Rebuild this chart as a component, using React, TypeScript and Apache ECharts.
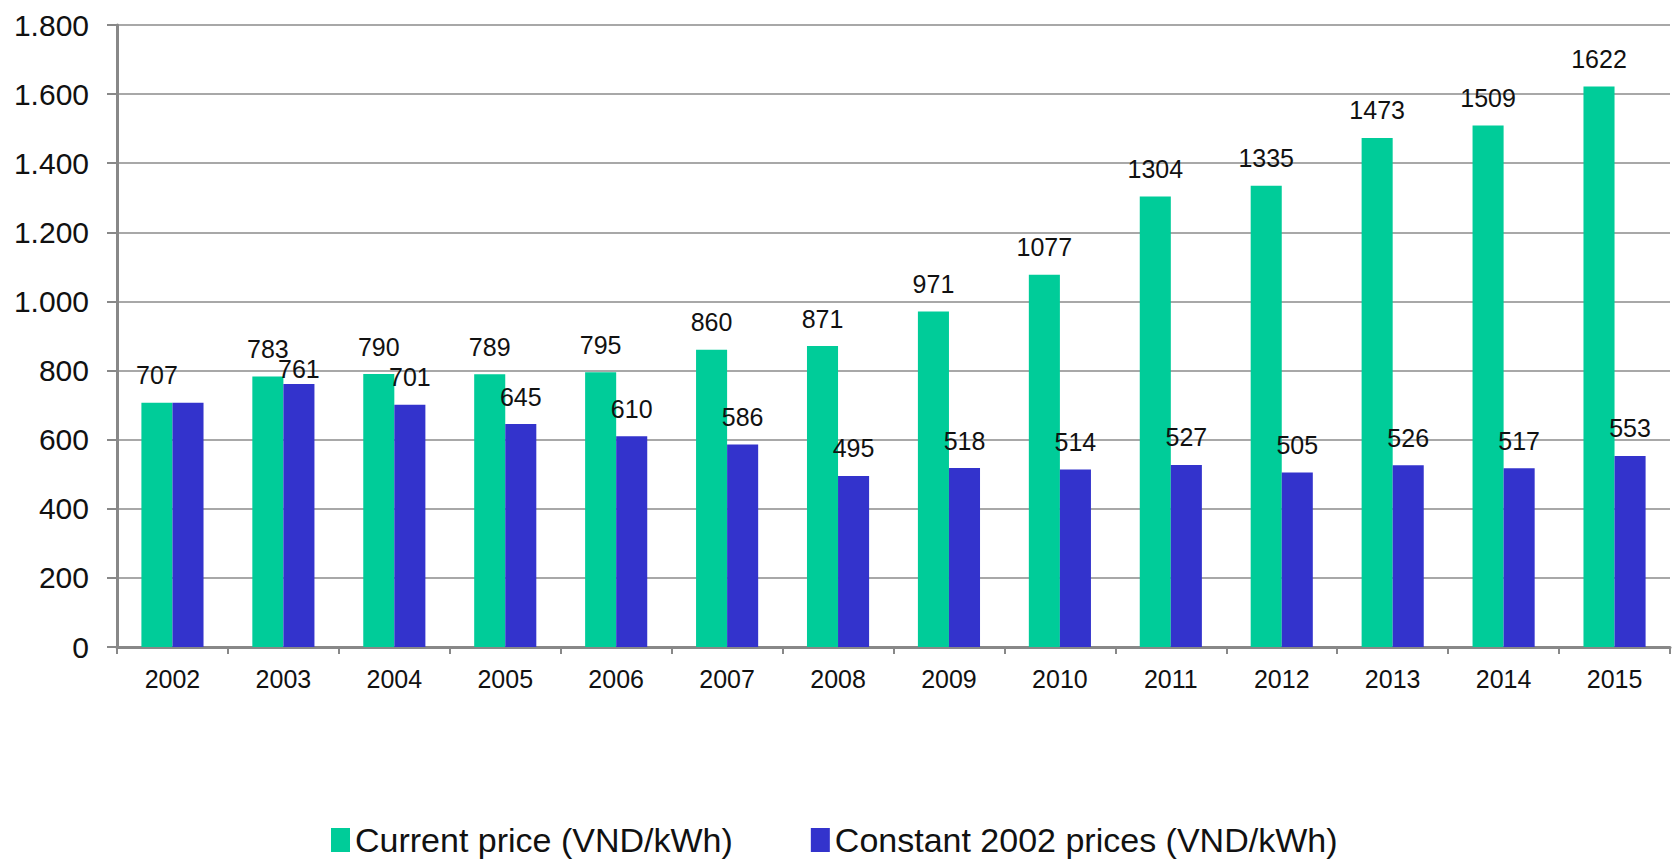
import React, { useEffect, useRef } from "react";
import * as echarts from "echarts";

const years = ["2002", "2003", "2004", "2005", "2006", "2007", "2008", "2009", "2010", "2011", "2012", "2013", "2014", "2015"];
const currentPrice = [707, 783, 790, 789, 795, 860, 871, 971, 1077, 1304, 1335, 1473, 1509, 1622];
const constantPrice = [707, 761, 701, 645, 610, 586, 495, 518, 514, 527, 505, 526, 517, 553];
const seriesNames = ["Current price (VND/kWh)", "Constant 2002 prices (VND/kWh)"];
const yTicks = { min: 0, max: 1800, interval: 200 };

const FONT = "'Liberation Sans', Arial, sans-serif";

export default function App() {
  const ref = useRef<HTMLDivElement>(null);
  useEffect(() => {
    if (!ref.current) return;
    const chart = echarts.init(ref.current, null, { renderer: "svg" });
    const labelStyle = {
      show: true,
      position: "top" as const,
      distance: 15,
      color: "#111",
      fontSize: 25,
      fontFamily: FONT,
    };
    chart.setOption({
      animation: false,
      backgroundColor: "#ffffff",
      grid: { left: 117, right: 3, top: 25, bottom: 214, containLabel: false },
      legend: {
        left: 331,
        top: 822,
        padding: 0,
        itemWidth: 19,
        itemHeight: 24,
        itemGap: 78,
        icon: "rect",
        textStyle: { fontSize: 34, lineHeight: 36, color: "#111", fontFamily: FONT },
        data: seriesNames,
      },
      xAxis: {
        type: "category",
        data: years,
        axisLine: { lineStyle: { color: "#888", width: 3 } },
        axisTick: { show: true, length: 7, lineStyle: { color: "#888", width: 2 } },
        axisLabel: { fontSize: 25, color: "#111", fontFamily: FONT, margin: 19 },
      },
      yAxis: {
        type: "value",
        min: yTicks.min,
        max: yTicks.max,
        interval: yTicks.interval,
        axisLine: { show: true, lineStyle: { color: "#888", width: 3 } },
        axisTick: { show: true, length: 10, lineStyle: { color: "#888", width: 2 } },
        splitLine: { lineStyle: { color: "#a8a8a8", width: 2 } },
        axisLabel: {
          fontSize: 30,
          color: "#111",
          fontFamily: FONT,
          margin: 28,
          formatter: (v: number) => {
            if (v >= 1000) {
              const th = Math.floor(v / 1000);
              const rest = String(v % 1000).padStart(3, "0");
              return th + "." + rest;
            }
            return String(v);
          },
        },
      },
      series: [
        {
          name: seriesNames[0],
          type: "bar",
          data: currentPrice,
          barGap: "0%",
          barCategoryGap: "44%",
          itemStyle: { color: "#00CC99" },
          label: labelStyle,
        },
        {
          name: seriesNames[1],
          type: "bar",
          data: constantPrice.map((v, i) => {
            if (i === 0) return { value: v, label: { show: false } };
            if (i === 1) return { value: v, label: { offset: [0, 12] } };
            return v;
          }),
          barGap: "0%",
          barCategoryGap: "44%",
          itemStyle: { color: "#3333CC" },
          label: labelStyle,
        },
      ],
    });
    return () => chart.dispose();
  }, []);
  return (
    <div
      ref={ref}
      style={{ position: "fixed", left: 0, top: 0, width: "1673px", height: "861px", background: "#fff" }}
    />
  );
}
